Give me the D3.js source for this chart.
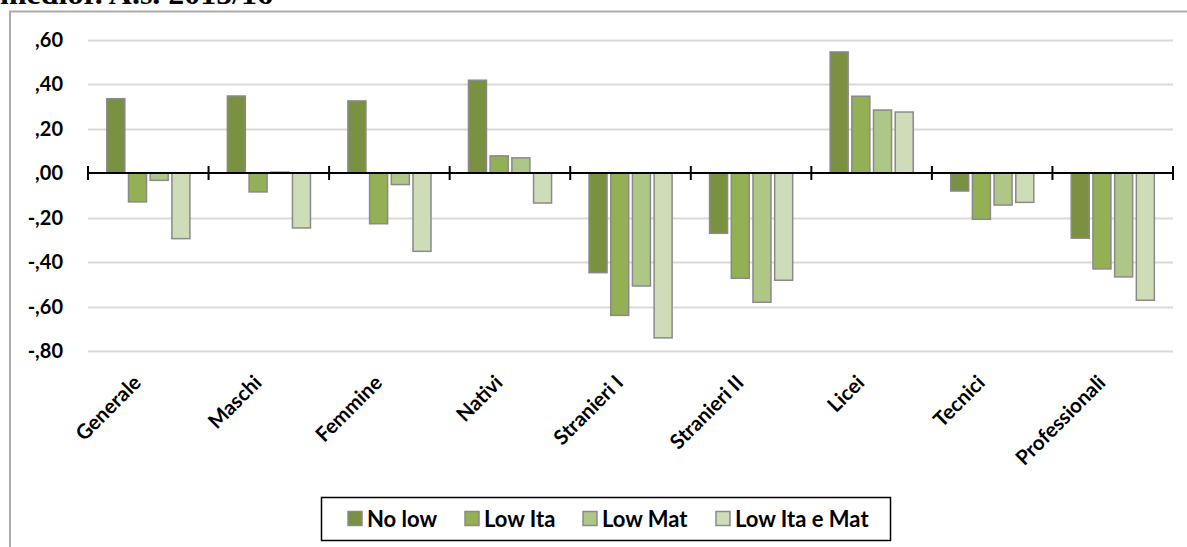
<!DOCTYPE html>
<html><head><meta charset="utf-8">
<script src="https://cdn.jsdelivr.net/npm/d3@7"></script>
<style>body{margin:0;background:#fff;}svg{display:block;}</style>
</head><body>
<script>
const categories = ["Generale","Maschi","Femmine","Nativi","Stranieri I","Stranieri II","Licei","Tecnici","Professionali"];
const seriesNames = ["No low","Low Ita","Low Mat","Low Ita e Mat"];
const noLow     = [0.334, 0.346, 0.324, 0.417, -0.448, -0.271, 0.544, -0.081, -0.293];
const lowIta    = [-0.130, -0.085, -0.228, 0.077, -0.640, -0.473, 0.345, -0.208, -0.431];
const lowMat    = [-0.033, 0.004, -0.052, 0.068, -0.508, -0.581, 0.283, -0.144, -0.467];
const lowItaMat = [-0.295, -0.247, -0.352, -0.135, -0.741, -0.482, 0.274, -0.132, -0.572];
const yTicks = [0.6, 0.4, 0.2, 0, -0.2, -0.4, -0.6, -0.8];
const yTickLabels = [",60", ",40", ",20", ",00", "-,20", "-,40", "-,60", "-,80"];
const colors = ["#7a9141", "#94b054", "#afc786", "#cfdcb8"];
const seriesValues = [noLow, lowIta, lowMat, lowItaMat];

const W = 1187, H = 547;
const svg = d3.select("body").append("svg").attr("width", W).attr("height", H);
const font = "Lato, 'Open Sans', sans-serif";

// title (cut off at top, as in the reference)
svg.append("text").attr("x", 0).attr("y", 4)
  .attr("font-family", "'Liberation Serif', serif").attr("font-weight", "bold")
  .attr("font-size", 30).attr("fill", "#000")
  .attr("textLength", 273).attr("lengthAdjust", "spacingAndGlyphs")
  .text("medior. A.s. 2015/16");

// chart border (top + left)
svg.append("line").attr("x1", 9).attr("x2", W).attr("y1", 11.5).attr("y2", 11.5).attr("stroke", "#ababab").attr("stroke-width", 2);
svg.append("line").attr("x1", 10).attr("x2", 10).attr("y1", 11).attr("y2", H).attr("stroke", "#ababab").attr("stroke-width", 2);

const x0 = d3.scaleBand().domain(categories).range([88, 1173]).padding(0);
const x1 = d3.scaleBand().domain(seriesNames).range([18.8, 101.9]).paddingInner(0.17).paddingOuter(0);
const y = d3.scaleLinear().domain([-0.8, 0.6]).range([351, 39.5]);

// gridlines
svg.append("g").selectAll("line").data(yTicks.filter(d => d !== 0)).join("line")
  .attr("x1", 88).attr("x2", 1173)
  .attr("y1", d => Math.round(y(d)) + 0.5).attr("y2", d => Math.round(y(d)) + 0.5)
  .attr("stroke", "#d9d9d9").attr("stroke-width", 2);

// y labels
svg.append("g").selectAll("text").data(yTicks).join("text")
  .attr("x", 63).attr("y", d => y(d)).attr("dy", "0.36em")
  .attr("text-anchor", "end").attr("font-family", font).attr("font-weight", "bold")
  .attr("font-size", 20).attr("fill", "#000")
  .text((d, i) => yTickLabels[i]);

// bars
const data = [];
categories.forEach((c, ci) => seriesNames.forEach((s, si) => data.push({c, s, si, v: seriesValues[si][ci]})));
svg.append("g").selectAll("rect").data(data).join("rect")
  .attr("x", d => x0(d.c) + x1(d.s))
  .attr("width", x1.bandwidth())
  .attr("y", d => Math.min(y(d.v), y(0)))
  .attr("height", d => Math.abs(y(d.v) - y(0)))
  .attr("fill", d => colors[d.si])
  .attr("stroke", "#8a8a8a").attr("stroke-width", 1.5);

// x axis line and ticks
const y0 = y(0);
svg.append("line").attr("x1", 88).attr("x2", 1173).attr("y1", y0).attr("y2", y0).attr("stroke", "#000").attr("stroke-width", 2);
const tickXs = categories.map(c => x0(c)).concat([x0.range()[1]]);
svg.append("g").selectAll("line").data(tickXs).join("line")
  .attr("x1", d => d).attr("x2", d => d).attr("y1", y0 - 7).attr("y2", y0 + 7)
  .attr("stroke", "#000").attr("stroke-width", 2);

// category labels rotated
svg.append("g").selectAll("text").data(categories).join("text")
  .attr("transform", c => `translate(${x0(c) + x0.bandwidth()/2 - 6},${384}) rotate(-45)`)
  .attr("text-anchor", "end").attr("font-family", font).attr("font-weight", "bold")
  .attr("font-size", 20.5).attr("fill", "#000").text(c => c);

// legend
const lg = svg.append("g");
lg.append("rect").attr("x", 321.5).attr("y", 497.5).attr("width", 569).attr("height", 43)
  .attr("fill", "#fff").attr("stroke", "#000").attr("stroke-width", 1.5);
const legendX = [348, 465, 583, 716];
seriesNames.forEach((s, i) => {
  lg.append("rect").attr("x", legendX[i]).attr("y", 511.5).attr("width", 14).attr("height", 14)
    .attr("fill", colors[i]).attr("stroke", "#8a8a8a").attr("stroke-width", 1.5);
  lg.append("text").attr("x", legendX[i] + 19).attr("y", 519).attr("dy", "0.36em")
    .attr("font-family", font).attr("font-weight", "bold").attr("font-size", 22).attr("fill", "#000").text(s);
});
</script>
</body></html>
